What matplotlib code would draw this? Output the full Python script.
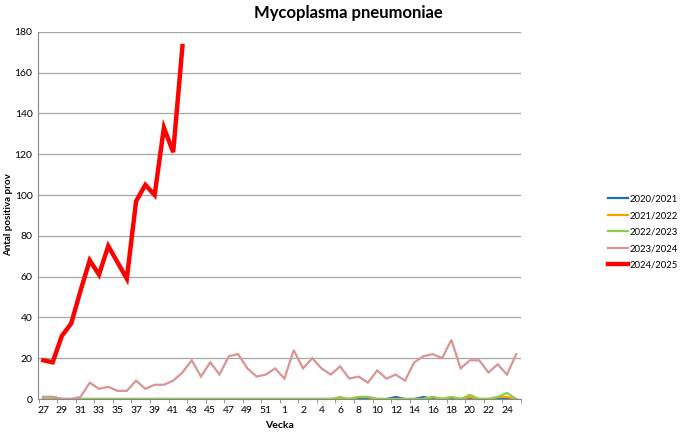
import matplotlib
matplotlib.use("Agg")
import matplotlib.pyplot as plt
import numpy as np

plt.rcParams['font.family'] = ['Lato', 'DejaVu Sans']

# weeks 27..52, 53, 1..25
weeks = list(range(27, 53)) + [53] + list(range(1, 26))
tick_labels = [str(w) for w in range(27, 52, 2)] + ["1", "2"] + [str(w) for w in range(4, 25, 2)]

s2020 = [1, 1, 0, 0, 0, 0, 0, 0, 0, 0, 0, 0, 0, 0, 0, 0, 0, 0, 0, 0, 0, 0, 0, 0, 0, 0,
         0, 0, 0, 0, 0, 0, 0, 0, 0, 0, 0, 0, 1, 0, 0, 1, 0, 0, 0, 0, 0, 0, 0, 0, 0, 0]
s2021 = [0, 1, 0, 0, 0, 0, 0, 0, 0, 0, 0, 0, 0, 0, 0, 0, 0, 0, 0, 0, 0, 0, 0, 0, 0, 0,
         0, 0, 0, 0, 0, 0, 0, 0, 1, 1, 0, 0, 0, 0, 0, 0, 1, 0, 1, 0, 1, 0, 0, 1, 1, 0]
s2022 = [0, 0, 0, 0, 0, 0, 0, 0, 0, 0, 0, 0, 0, 0, 0, 0, 0, 0, 0, 0, 0, 0, 0, 0, 0, 0,
         0, 0, 0, 0, 0, 0, 1, 0, 1, 1, 0, 0, 0, 0, 0, 0, 1, 0, 1, 0, 2, 0, 0, 1, 3, 0]
s2023 = [1, 1, 0, 0, 1, 8, 5, 6, 4, 4, 9, 5, 7, 7, 9, 13, 19, 11, 18, 12, 21, 22, 15, 11, 12, 15,
         10, 24, 15, 20, 15, 12, 16, 10, 11, 8, 14, 10, 12, 9, 18, 21, 22, 20, 29, 15, 19, 19, 13, 17, 12, 22]
s2024 = [19, 18, 31, 37, 53, 68, 61, 75, 67, 59, 97, 105, 100, 133, 121, 173]

series = [
    ("2020/2021", s2020, "#1f6fb4", 1.6),
    ("2021/2022", s2021, "#f5a200", 1.6),
    ("2022/2023", s2022, "#8fce4a", 1.6),
    ("2023/2024", s2023, "#d99594", 1.6),
    ("2024/2025", s2024, "#ff0000", 3.2),
]

fig = plt.figure(figsize=(6.8, 4.34), dpi=100)
ax = fig.add_axes([0.056, 0.0806, 0.71, 0.846])

for name, vals, col, lw in series:
    ax.plot(range(len(vals)), vals, color=col, lw=lw, label=name,
            solid_joinstyle="miter")

ax.set_xlim(-0.57, 51.4)
ax.set_ylim(0, 180)
ax.set_yticks(range(0, 181, 20))
ax.yaxis.grid(True, color="#a6a6a6", lw=0.9)
ax.set_axisbelow(True)
ax.set_xticks(range(0, len(weeks), 2))
ax.set_xticklabels(tick_labels)
ax.set_xticks(np.arange(-0.5, len(weeks), 2), minor=True)
ax.tick_params(axis="x", which="major", length=0, labelsize=7.5, pad=5)
ax.tick_params(axis="x", which="minor", length=3, color="#888888")
ax.tick_params(axis="y", length=0, labelsize=7.5, pad=4)
for side in ["top", "right"]:
    ax.spines[side].set_visible(False)
ax.spines["left"].set_color("#888888")
ax.spines["bottom"].set_color("#888888")

ax.set_xlabel("Vecka", fontsize=7.5, fontweight="bold", labelpad=4)
fig.text(0.012, 0.505, "Antal positiva prov", rotation=90, fontsize=7,
         fontweight="bold", ha="center", va="center")
fig.suptitle("Mycoplasma pneumoniae", fontsize=12, fontweight="bold", x=0.513, y=0.988)

ax.legend(loc="center left", bbox_to_anchor=(0.888, 0.465), bbox_transform=fig.transFigure,
          frameon=False, fontsize=6.8, handlelength=2.2, labelspacing=0.8,
          handletextpad=0.1, borderaxespad=0)

fig.savefig("out.png", dpi=100)
